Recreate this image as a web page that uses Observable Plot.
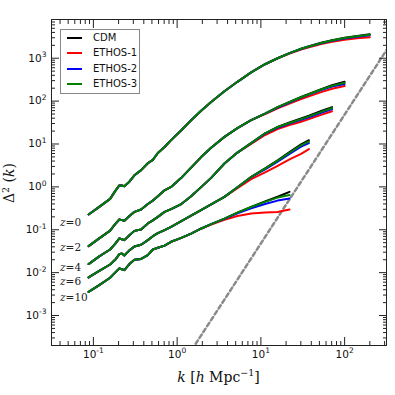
<!DOCTYPE html>
<html>
<head>
<meta charset="utf-8">
<script src="https://cdn.jsdelivr.net/npm/d3@7"></script>
<script src="https://cdn.jsdelivr.net/npm/@observablehq/plot@0.6"></script>
<style>
html, body { margin: 0; padding: 0; background: #fff; }
#wrap { position: relative; width: 395px; height: 395px; overflow: hidden; font-family: "DejaVu Sans", sans-serif; }
#wrap svg { display: block; }
.legend { position: absolute; left: 60px; top: 29px; width: 78px; height: 63px; border: 1px solid #888; background: #fff; }
.legend .row { position: absolute; left: 0; width: 78px; height: 14px; }
.legend .sw { position: absolute; left: 6px; top: 6px; width: 15px; height: 2px; }
.legend .lbl { position: absolute; left: 32px; top: 0; font-size: 10px; line-height: 14px; color: #111; white-space: nowrap; }
</style>
</head>
<body>
<div id="wrap"></div>
<script>
// ---- data (log10 values) ----
const logK = [-1.057,-0.93,-0.80,-0.74,-0.69,-0.66,-0.63,-0.57,-0.51,-0.43,-0.35,-0.29,-0.23,-0.15,-0.072,0.05,
              0.167,0.29,0.406,0.565,0.72,0.884,1.05,1.2,1.342,1.48,1.574,1.72,1.85,2.0,2.15,2.30];

const models = ["CDM", "ETHOS-1", "ETHOS-2", "ETHOS-3"];
const modelColors = ["#000000", "#ff0000", "#0000ff", "#008000"];
const redshifts = ["0", "2", "4", "6", "10"];

// CDM log10 Delta^2 along logK
const logD2_z0_CDM = [-0.643,-0.465,-0.28,-0.10,0.035,0.03,0.016,0.12,0.27,0.39,0.55,0.63,0.79,0.93,1.09,1.32,
                      1.555,1.78,1.98,2.23,2.45,2.67,2.86,3.00,3.12,3.22,3.28,3.36,3.42,3.48,3.52,3.56];
const logD2_z2_CDM = [-1.382,-1.20,-1.02,-0.87,-0.76,-0.775,-0.79,-0.68,-0.583,-0.527,-0.40,-0.32,-0.22,-0.08,0.0,0.21,
                      0.45,0.70,0.91,1.166,1.37,1.555,1.71,1.86,1.98,2.098,2.17,2.28,2.37,2.45];
const logD2_z4_CDM = [-1.80,-1.62,-1.46,-1.33,-1.203,-1.22,-1.242,-1.13,-1.026,-0.993,-0.853,-0.78,-0.70,-0.583,-0.52,-0.40,
                      -0.22,0.0,0.21,0.545,0.80,1.02,1.25,1.40,1.50,1.594,1.66,1.77,1.86];
const logD2_z6_CDM = [-2.112,-1.96,-1.81,-1.70,-1.57,-1.555,-1.60,-1.48,-1.39,-1.35,-1.242,-1.15,-1.08,-1.01,-0.932,-0.80,
                      -0.67,-0.535,-0.41,-0.233,-0.01,0.233,0.43,0.62,0.81,0.99,1.089];
const logD2_z10_CDM = [-2.448,-2.29,-2.12,-2.0,-1.902,-1.92,-1.942,-1.80,-1.70,-1.68,-1.592,-1.46,-1.42,-1.37,-1.28,-1.19,
                       -1.09,-0.97,-0.87,-0.74,-0.60,-0.466,-0.34,-0.23,-0.117];

// ETHOS values where they split from CDM (last points of each curve); below that they coincide with CDM
const tail_z0_E1 = [3.11,3.20,3.255,3.33,3.385,3.43,3.465,3.49];
const tail_z0_E2 = [3.12,3.215,3.27,3.35,3.405,3.46,3.50,3.535];
const tail_z0_E3 = [3.12,3.22,3.275,3.355,3.415,3.47,3.51,3.55];
const tail_z2_E1 = [1.70,1.83,1.94,2.05,2.11,2.21,2.29,2.35];
const tail_z2_E2 = [1.71,1.85,1.965,2.08,2.15,2.255,2.34,2.40];
const tail_z2_E3 = [1.71,1.86,1.975,2.09,2.16,2.27,2.355,2.43];
const tail_z4_E1 = [1.00,1.21,1.35,1.44,1.52,1.58,1.68,1.765];
const tail_z4_E2 = [1.02,1.24,1.38,1.475,1.565,1.625,1.73,1.815];
const tail_z4_E3 = [1.02,1.25,1.395,1.49,1.58,1.645,1.75,1.84];
const tail_z6_E1 = [-0.03,0.18,0.34,0.49,0.64,0.77,0.88];
const tail_z6_E2 = [-0.01,0.225,0.41,0.59,0.77,0.94,1.02];
const tail_z6_E3 = [-0.01,0.23,0.425,0.61,0.795,0.97,1.06];
const tail_z10_E1 = [-0.88,-0.77,-0.68,-0.62,-0.60,-0.585,-0.527];
const tail_z10_E2 = [-0.87,-0.745,-0.615,-0.50,-0.40,-0.32,-0.27];
const tail_z10_E3 = [-0.87,-0.74,-0.60,-0.47,-0.35,-0.25,-0.19];

// dashed reference line (two end points)
const refK = [1.5, 320];
const refD2 = [1.6e-4, 1.6e3];

// z annotation anchors
const zLabelText = ["z=0", "z=2", "z=4", "z=6", "z=10"];
const zLabelK = [0.04, 0.04, 0.04, 0.04, 0.04];
const zLabelD2 = [0.145, 0.038, 0.0129, 0.0061, 0.00264];

// tick values
const xMajor = [0.1, 1, 10, 100];
const yMajor = [1e-3, 1e-2, 1e-1, 1, 10, 100, 1000];
const minorMult = [2,3,4,5,6,7,8,9];

// ---- build table ----
const cdmByZ = [logD2_z0_CDM, logD2_z2_CDM, logD2_z4_CDM, logD2_z6_CDM, logD2_z10_CDM];
const tailsByZ = [
  [tail_z0_E1, tail_z0_E2, tail_z0_E3],
  [tail_z2_E1, tail_z2_E2, tail_z2_E3],
  [tail_z4_E1, tail_z4_E2, tail_z4_E3],
  [tail_z6_E1, tail_z6_E2, tail_z6_E3],
  [tail_z10_E1, tail_z10_E2, tail_z10_E3]
];
const rows = [];
redshifts.forEach((z, zi) => {
  const cdm = cdmByZ[zi];
  models.forEach((m, mi) => {
    let vals = cdm;
    if (mi > 0) {
      const t = tailsByZ[zi][mi - 1];
      vals = cdm.slice(0, cdm.length - t.length).concat(t);
    }
    vals.forEach((v, i) => rows.push({model: m, z, k: Math.pow(10, logK[i]), d2: Math.pow(10, v)}));
  });
});
const refRows = refK.map((k, i) => ({k, d2: refD2[i]}));
const zLabels = zLabelText.map((t, i) => ({t, k: zLabelK[i], d2: zLabelD2[i]}));

const xDomain = [Math.pow(10, -1.5), Math.pow(10, 2.5)];
const yDomain = [2e-4, 8e3];
const inDom = (v, d) => v > d[0] * 1.0001 && v < d[1] * 0.9999;
const xMinor = [0.01, 0.1, 1, 10, 100].flatMap(p => minorMult.map(m => +(m * p).toPrecision(3))).filter(v => inDom(v, xDomain));
const yMinor = [1e-4, 1e-3, 1e-2, 1e-1, 1, 10, 100, 1000].flatMap(p => minorMult.map(m => +(m * p).toPrecision(3))).filter(v => inDom(v, yDomain));
const supFmt = d => "10^" + Math.round(Math.log10(d));

const tickColor = "#222";
const marks = [
  Plot.line(refRows, {x: "k", y: "d2", stroke: "#8a8a8a", strokeWidth: 2.5, strokeDasharray: "4,3", clip: true}),
  ...models.map((m, mi) => Plot.line(rows.filter(r => r.model === m), {
    x: "k", y: "d2", z: "z", stroke: modelColors[mi], strokeWidth: 2, strokeLinejoin: "round"
  })),
  Plot.text(zLabels, {x: "k", y: "d2", text: "t", textAnchor: "start", lineAnchor: "middle",
    fontFamily: "'DejaVu Serif', serif", fontSize: 10.5, fill: "#222"}),
  // ticks (inward)
  Plot.axisX(xMinor, {anchor: "bottom", tickSize: -4, text: null, stroke: tickColor}),
  Plot.axisX(xMajor, {anchor: "bottom", tickSize: -8, text: null, stroke: tickColor}),
  Plot.axisX(xMinor, {anchor: "top", tickSize: -4, text: null, stroke: tickColor}),
  Plot.axisX(xMajor, {anchor: "top", tickSize: -8, text: null, stroke: tickColor}),
  Plot.axisY(yMinor, {anchor: "left", tickSize: -4, text: null, stroke: tickColor}),
  Plot.axisY(yMajor, {anchor: "left", tickSize: -8, text: null, stroke: tickColor}),
  Plot.axisY(yMinor, {anchor: "right", tickSize: -4, text: null, stroke: tickColor}),
  Plot.axisY(yMajor, {anchor: "right", tickSize: -8, text: null, stroke: tickColor}),
  // tick labels
  Plot.axisX(xMajor, {anchor: "bottom", tickSize: 0, tickPadding: 5, tickFormat: supFmt, fill: "#111"}),
  Plot.axisY(yMajor, {anchor: "left", tickSize: 0, tickPadding: 5, tickFormat: supFmt, fill: "#111"}),
  Plot.frame({stroke: "#222", strokeWidth: 1})
];

const chart = Plot.plot({
  width: 395, height: 395,
  marginLeft: 51, marginRight: 9, marginTop: 19, marginBottom: 50,
  style: {fontFamily: "'DejaVu Sans', sans-serif", fontSize: "10.5px", color: "#222", background: "#fff"},
  x: {type: "log", domain: xDomain, label: null},
  y: {type: "log", domain: yDomain, label: null},
  marks
});

const wrap = document.getElementById("wrap");
wrap.appendChild(chart);

const NS = "http://www.w3.org/2000/svg";
const svg = chart.tagName.toLowerCase() === "svg" ? chart : chart.querySelector("svg");

function mk(tag, attrs, txt) {
  const e = document.createElementNS(NS, tag);
  for (const k in attrs) e.setAttribute(k, attrs[k]);
  if (txt != null) e.textContent = txt;
  return e;
}

// superscript tick labels and mixed-style z labels
svg.querySelectorAll("text").forEach(t => {
  const s = t.textContent;
  let m = s.match(/^10\^(-?\d+)$/);
  if (m) {
    t.textContent = "10";
    t.appendChild(mk("tspan", {"font-size": "7.5px", dy: "-4.5"}, m[1]));
    return;
  }
  m = s.match(/^z=(\d+)$/);
  if (m) {
    t.textContent = "";
    t.appendChild(mk("tspan", {"font-style": "italic"}, "z"));
    t.appendChild(mk("tspan", {}, "=" + m[1]));
  }
});

// axis labels
const xr = chart.scale("x").range, yr = chart.scale("y").range;
const xc = (xr[0] + xr[1]) / 2, yc = (yr[0] + yr[1]) / 2;
const xl = mk("text", {x: xc, y: 381.5, "text-anchor": "middle", "font-family": "'DejaVu Serif', serif", "font-size": "14px", fill: "#111"});
xl.appendChild(mk("tspan", {"font-style": "italic"}, "k"));
xl.appendChild(mk("tspan", {}, " [")); 
xl.appendChild(mk("tspan", {"font-style": "italic"}, "h"));
xl.appendChild(mk("tspan", {}, " Mpc"));
xl.appendChild(mk("tspan", {"font-size": "9.5px", dy: "-5.5"}, "\u22121"));
xl.appendChild(mk("tspan", {dy: "5.5"}, "]"));
svg.appendChild(xl);

const yl = mk("text", {transform: `translate(14,${yc + 1}) rotate(-90)`, "text-anchor": "middle", "font-family": "'DejaVu Serif', serif", "font-size": "14px", fill: "#111"});
yl.appendChild(mk("tspan", {}, "\u0394"));
yl.appendChild(mk("tspan", {"font-size": "9.5px", dy: "-5.5"}, "2"));
yl.appendChild(mk("tspan", {dy: "5.5"}, " ("));
yl.appendChild(mk("tspan", {"font-style": "italic"}, "k"));
yl.appendChild(mk("tspan", {}, ")"));
svg.appendChild(yl);

// legend overlay
const leg = document.createElement("div");
leg.className = "legend";
models.forEach((m, i) => {
  const row = document.createElement("div");
  row.className = "row";
  row.style.top = (1.3 + 15.13 * i) + "px";
  const sw = document.createElement("div");
  sw.className = "sw";
  sw.style.background = modelColors[i];
  const lb = document.createElement("div");
  lb.className = "lbl";
  lb.textContent = m;
  row.appendChild(sw); row.appendChild(lb);
  leg.appendChild(row);
});
wrap.appendChild(leg);
</script>
</body>
</html>
